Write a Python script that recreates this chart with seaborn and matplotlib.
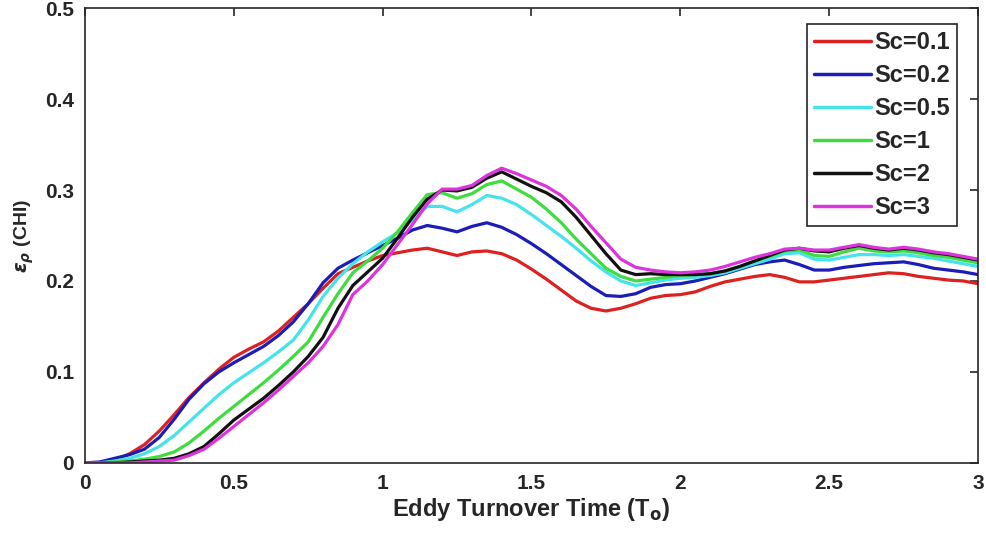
import numpy as np
import pandas as pd
import matplotlib
matplotlib.use('Agg')
import matplotlib.pyplot as plt
import seaborn as sns

# time grid (eddy turnover times) and readings for each Schmidt number
t = np.round(np.arange(0, 3.0001, 0.05), 2)

sc_01 = [0.000, 0.000, 0.003, 0.010, 0.020, 0.035, 0.053, 0.072, 0.088, 0.103,
         0.116, 0.125, 0.133, 0.145, 0.160, 0.175, 0.192, 0.208, 0.215, 0.222,
         0.228, 0.231, 0.234, 0.236, 0.232, 0.228, 0.232, 0.233, 0.230, 0.223,
         0.213, 0.202, 0.190, 0.178, 0.170, 0.167, 0.170, 0.175, 0.181, 0.184,
         0.185, 0.188, 0.194, 0.199, 0.202, 0.205, 0.207, 0.204, 0.199, 0.199,
         0.201, 0.203, 0.205, 0.207, 0.209, 0.208, 0.205, 0.203, 0.201, 0.200, 0.197]
sc_02 = [0.000, 0.001, 0.005, 0.009, 0.015, 0.028, 0.048, 0.070, 0.087, 0.100,
         0.110, 0.119, 0.128, 0.140, 0.155, 0.175, 0.198, 0.214, 0.223, 0.231,
         0.239, 0.247, 0.256, 0.261, 0.258, 0.254, 0.260, 0.264, 0.259, 0.251,
         0.241, 0.230, 0.218, 0.206, 0.194, 0.184, 0.183, 0.186, 0.193, 0.196,
         0.197, 0.200, 0.204, 0.208, 0.213, 0.218, 0.221, 0.223, 0.218, 0.212,
         0.212, 0.215, 0.217, 0.219, 0.220, 0.221, 0.218, 0.214, 0.212, 0.210, 0.207]
sc_05 = [0.000, 0.000, 0.002, 0.005, 0.010, 0.018, 0.030, 0.045, 0.060, 0.075,
         0.088, 0.099, 0.110, 0.122, 0.135, 0.157, 0.183, 0.203, 0.219, 0.232,
         0.243, 0.253, 0.267, 0.282, 0.282, 0.276, 0.284, 0.294, 0.291, 0.284,
         0.273, 0.261, 0.249, 0.236, 0.222, 0.210, 0.200, 0.195, 0.198, 0.201,
         0.203, 0.204, 0.206, 0.209, 0.214, 0.219, 0.224, 0.230, 0.231, 0.224,
         0.223, 0.226, 0.229, 0.229, 0.228, 0.229, 0.227, 0.225, 0.222, 0.219, 0.216]
sc_1 = [0.000, 0.000, 0.001, 0.002, 0.004, 0.007, 0.012, 0.022, 0.035, 0.049,
        0.062, 0.075, 0.088, 0.102, 0.117, 0.133, 0.160, 0.186, 0.209, 0.222,
        0.236, 0.254, 0.275, 0.295, 0.297, 0.291, 0.296, 0.306, 0.310, 0.301,
        0.292, 0.279, 0.264, 0.246, 0.230, 0.214, 0.205, 0.200, 0.202, 0.204,
        0.206, 0.207, 0.208, 0.211, 0.216, 0.222, 0.227, 0.233, 0.234, 0.228,
        0.227, 0.232, 0.236, 0.233, 0.232, 0.233, 0.231, 0.228, 0.226, 0.223, 0.220]
sc_2 = [0.000, 0.000, 0.000, 0.001, 0.002, 0.003, 0.005, 0.010, 0.018, 0.032,
        0.047, 0.059, 0.071, 0.085, 0.100, 0.117, 0.138, 0.170, 0.195, 0.210,
        0.225, 0.247, 0.270, 0.290, 0.300, 0.299, 0.303, 0.313, 0.320, 0.312,
        0.304, 0.297, 0.287, 0.270, 0.250, 0.230, 0.212, 0.207, 0.208, 0.207,
        0.207, 0.207, 0.208, 0.211, 0.216, 0.222, 0.228, 0.234, 0.236, 0.233,
        0.232, 0.236, 0.239, 0.236, 0.234, 0.236, 0.234, 0.231, 0.229, 0.226, 0.223]
sc_3 = [0.000, 0.000, 0.000, 0.000, 0.001, 0.002, 0.003, 0.008, 0.015, 0.027,
        0.040, 0.053, 0.066, 0.080, 0.095, 0.110, 0.128, 0.152, 0.185, 0.200,
        0.218, 0.240, 0.262, 0.285, 0.301, 0.301, 0.305, 0.316, 0.324, 0.318,
        0.311, 0.304, 0.294, 0.279, 0.260, 0.242, 0.224, 0.215, 0.212, 0.210,
        0.209, 0.210, 0.212, 0.216, 0.221, 0.226, 0.230, 0.235, 0.236, 0.234,
        0.234, 0.237, 0.240, 0.237, 0.235, 0.237, 0.235, 0.232, 0.230, 0.227, 0.224]

labels = ['Sc=0.1', 'Sc=0.2', 'Sc=0.5', 'Sc=1', 'Sc=2', 'Sc=3']
colors = ['#dd2020', '#1c1cb8', '#45e3ea', '#3fdc3f', '#111111', '#dd33dd']

frames = []
for lab, vals in zip(labels, [sc_01, sc_02, sc_05, sc_1, sc_2, sc_3]):
    frames.append(pd.DataFrame({'t': t, 'eps': vals, 'Sc': lab}))
df = pd.concat(frames, ignore_index=True)

sns.set_style('white')
plt.rcParams['font.family'] = ['Liberation Sans', 'DejaVu Sans']
plt.rcParams['font.weight'] = 'bold'
plt.rcParams['mathtext.fontset'] = 'dejavusans'

fig = plt.figure(figsize=(9.87, 5.42), dpi=100)
ax = fig.add_axes([0.086, 0.146, 0.905, 0.839])

sns.lineplot(data=df, x='t', y='eps', hue='Sc', palette=colors, hue_order=labels,
             linewidth=2.3, ax=ax)

ax.set_xlim(0, 3)
ax.set_ylim(0, 0.5)
ax.set_xticks([0, 0.5, 1, 1.5, 2, 2.5, 3])
ax.set_xticklabels(['0', '0.5', '1', '1.5', '2', '2.5', '3'])
ax.set_yticks([0, 0.1, 0.2, 0.3, 0.4, 0.5])
ax.set_yticklabels(['0', '0.1', '0.2', '0.3', '0.4', '0.5'])
ax.tick_params(direction='in', length=6, width=1.2, top=True, right=True,
               labelsize=15, colors='#262626', pad=8)
for lab in ax.get_xticklabels() + ax.get_yticklabels():
    lab.set_fontweight('bold')
for sp in ax.spines.values():
    sp.set_color('#262626')
    sp.set_linewidth(1.2)

ax.set_xlabel('Eddy Turnover Time (T$_{\\mathbf{o}}$)', fontsize=17,
              fontweight='bold', color='#262626', labelpad=2)
ax.set_ylabel('$\\epsilon_\\rho$ (CHI)', fontsize=14, fontweight='bold',
              color='#262626', labelpad=6)

leg = ax.legend(loc='upper right', bbox_to_anchor=(0.982, 0.975), fontsize=17,
                handlelength=2.4, handletextpad=0.15, labelspacing=0.42,
                fancybox=False, framealpha=1, borderpad=0.3, borderaxespad=0.2)
leg.get_frame().set_edgecolor('#262626')
leg.get_frame().set_linewidth(1.2)
for txt in leg.get_texts():
    txt.set_fontweight('bold')
for line in leg.get_lines():
    line.set_linewidth(2.5)

plt.savefig('out.png', dpi=100)
